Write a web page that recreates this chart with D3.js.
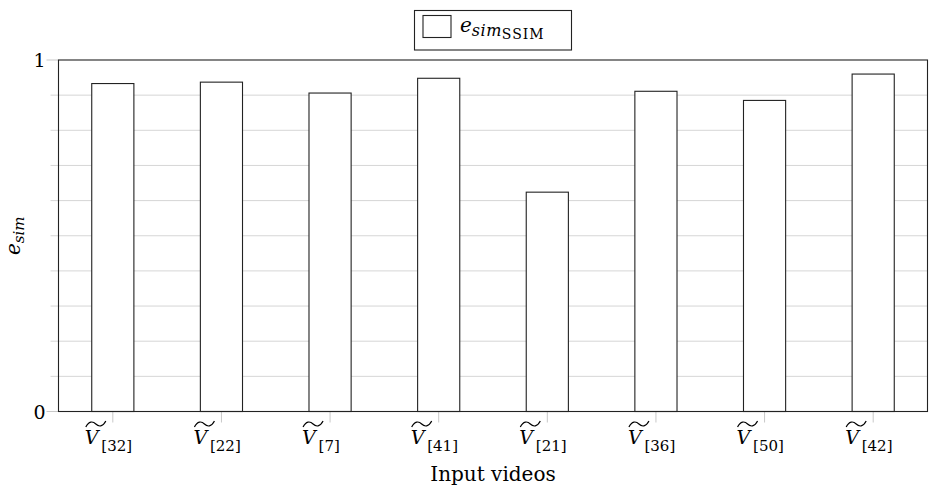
<!DOCTYPE html>
<html>
<head>
<meta charset="utf-8">
<script src="https://cdn.jsdelivr.net/npm/d3@7"></script>
<style>
  html, body { margin: 0; padding: 0; background: #fff; }
  svg { display: block; }
  text { font-family: "DejaVu Serif", "Liberation Serif", serif; fill: #000; }
</style>
</head>
<body>
<svg id="chart" width="930" height="489"></svg>
<script>
const categories = ["32", "22", "7", "41", "21", "36", "50", "42"];
const values = [0.933, 0.937, 0.906, 0.948, 0.624, 0.911, 0.885, 0.960];
const yTickLabels = [0, 1];
const yGridValues = [0.1, 0.2, 0.3, 0.4, 0.5, 0.6, 0.7, 0.8, 0.9];
const seriesName = "SSIM";

const W = 930, H = 489;
const margin = { left: 58.5, right: 2.5, top: 60, bottom: 77.5 };
const svg = d3.select("#chart");

const x = d3.scaleBand().domain(categories)
  .range([margin.left, W - margin.right]).paddingInner(0.612).paddingOuter(0.306);
const y = d3.scaleLinear().domain([0, 1]).range([H - margin.bottom, margin.top]);

// gridlines
svg.append("g").selectAll("line").data(yGridValues).join("line")
  .attr("x1", margin.left - 8).attr("x2", W - margin.right)
  .attr("y1", d => y(d)).attr("y2", d => y(d))
  .attr("stroke", "#d6d6d6").attr("stroke-width", 1);
// major ticks
svg.append("g").selectAll("line").data(yTickLabels).join("line")
  .attr("x1", margin.left - 12).attr("x2", margin.left)
  .attr("y1", d => y(d)).attr("y2", d => y(d))
  .attr("stroke", "#c8c8c8").attr("stroke-width", 1);
svg.append("g").selectAll("text").data(yTickLabels).join("text")
  .attr("x", margin.left - 13).attr("y", d => y(d) + 7)
  .attr("text-anchor", "end").attr("font-size", 19).text(d => d);

// x ticks
const xAxis = d3.axisBottom(x).tickSize(11).tickFormat("");
const gx = svg.append("g").attr("transform", `translate(0,${y(0)})`).call(xAxis);
gx.select(".domain").remove();
gx.selectAll(".tick line").attr("stroke", "#c8c8c8");

// bars
svg.append("g").selectAll("rect").data(values).join("rect")
  .attr("x", (d, i) => x(categories[i]))
  .attr("width", x.bandwidth())
  .attr("y", d => y(d))
  .attr("height", d => y(0) - y(d))
  .attr("fill", "#fff").attr("stroke", "#222").attr("stroke-width", 1.1);

// frame
svg.append("rect")
  .attr("x", margin.left).attr("y", margin.top)
  .attr("width", W - margin.right - margin.left).attr("height", y(0) - margin.top)
  .attr("fill", "none").attr("stroke", "#222").attr("stroke-width", 1.1);

// x tick labels
const lbl = svg.append("g").selectAll("g").data(categories).join("g")
  .attr("transform", d => `translate(${x(d) + x.bandwidth() / 2},0)`);
lbl.append("text").attr("x", -28).attr("y", 444).attr("font-size", 19)
  .attr("font-style", "italic").text("V");
lbl.append("path")
  .attr("d", "M-27,427 C-24,421 -20,421 -17,424 C-14,427 -10,427 -7,421")
  .attr("fill", "none").attr("stroke", "#000").attr("stroke-width", 1.2);
lbl.append("text").attr("x", -11.5).attr("y", 451).attr("font-size", 15)
  .text(d => "[" + d + "]");

// axis labels
svg.append("text").attr("x", 493).attr("y", 481)
  .attr("text-anchor", "middle").attr("font-size", 20).text("Input videos");
svg.append("text").attr("transform", `translate(20,${(margin.top + y(0)) / 2}) rotate(-90)`)
  .attr("text-anchor", "middle").attr("font-size", 20).attr("font-style", "italic")
  .text("e").append("tspan").attr("dy", 4).attr("font-size", 15).text("sim");

// legend
const lg = svg.append("g");
lg.append("rect").attr("x", 414.5).attr("y", 10.5).attr("width", 157).attr("height", 39.5)
  .attr("fill", "#fff").attr("stroke", "#222").attr("stroke-width", 1.1);
lg.append("rect").attr("x", 423).attr("y", 15.5).attr("width", 28).attr("height", 22)
  .attr("fill", "#fff").attr("stroke", "#222").attr("stroke-width", 1.1);
const lt = lg.append("text").attr("x", 460).attr("y", 32).attr("font-size", 20).attr("font-style", "italic");
lt.append("tspan").text("e");
lt.append("tspan").attr("dy", 4).attr("font-size", 16).attr("letter-spacing", 0.5).text("sim");
lt.append("tspan").attr("dy", 3).attr("font-size", 14).attr("letter-spacing", 1).attr("font-style", "normal").text(seriesName);
</script>
</body>
</html>
